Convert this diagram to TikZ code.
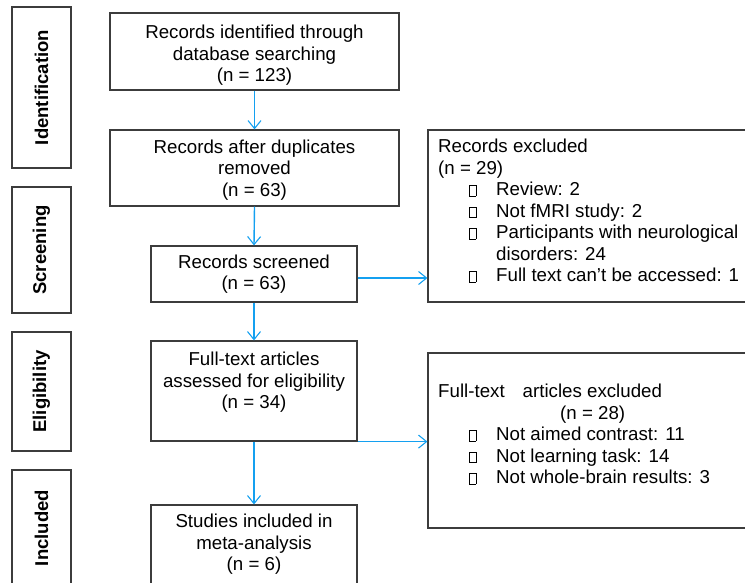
\documentclass[tikz,border=0pt]{standalone}
\usepackage{fontspec}
\setmainfont{Liberation Sans}
\usetikzlibrary{arrows.meta}
\definecolor{arrowblue}{RGB}{20,160,240}
\definecolor{boxgray}{RGB}{60,60,60}
\newcommand{\tofubox}{{\setlength{\fboxsep}{0pt}\setlength{\fboxrule}{0.6pt}\fbox{\rule{0pt}{10pt}\hspace{6pt}}}}
\newcommand{\exclitem}[1]{\makebox[58pt][l]{\hspace{31pt}\tofubox}#1}
\begin{document}
\begin{tikzpicture}[x=1pt, y=-1pt,
		every node/.style={font=\fontsize{18.7}{21.5}\selectfont, inner sep=2pt},
		stage/.style={draw=boxgray, line width=1.2pt, rotate=90, minimum height=59pt, font=\fontsize{18.5}{21.5}\selectfont\bfseries},
		flowbox/.style={draw=boxgray, line width=1.2pt, align=center},
		arr/.style={->, draw=arrowblue, line width=1.4pt},
		>={Straight Barb[length=8pt,width=13pt,line width=1.1pt]}]
		\useasboundingbox (0,0) rectangle (745,582);
		\clip (0,0) rectangle (745,582);
		
		% Этапы слева
		\foreach \name/\txt/\y/\len in {ident/Identification/87.5/161, screen/Screening/250/126, elig/Eligibility/391.5/119, incl/Included/528/116}
			\node[stage, minimum width=\len pt] (\name) at (41.5,\y) {\txt};
		
		% Основная колонка
		\node[flowbox, minimum width=289pt, minimum height=77pt] (recid) at (254.5,51.5) {\rule{0pt}{21pt}Records identified through\\database searching\\(n = 123)};
		\node[flowbox, minimum width=289pt, minimum height=76pt] (recdup) at (254.5,168) {\rule{0pt}{17pt}Records after duplicates\\removed\\(n = 63)};
		\node[flowbox, minimum width=206pt, minimum height=56pt] (recscr) at (254,274) {Records screened\\(n = 63)};
		\node[flowbox, minimum width=206pt, minimum height=100pt] (fulltext) at (254,391) {Full-text articles\\assessed for eligibility\\(n = 34)\\\mbox{}};
		\node[flowbox, minimum width=206pt, minimum height=79pt] (studies) at (254,544.5) {Studies included in\\meta-analysis\\(n = 6)};
		
		% Исключённые
		\node[flowbox, minimum width=332pt, minimum height=172pt] (excl1) at (594,216) {};
		\node[flowbox, minimum width=332pt, minimum height=175pt] (excl2) at (594,440.5) {};
		\node[anchor=north west, align=left] (excl1txt) at (436,137) {Records excluded\\(n = 29)\\
			\exclitem{Review: 2}\\
			\exclitem{Not fMRI study: 2}\\
			\exclitem{Participants with neurological}\\
			\hspace*{58pt}disorders: 24\\
			\exclitem{Full text can’t be accessed: 1}};
		\node[anchor=north west, align=left] (excl2txt) at (436,382) {Full-text\hspace{18pt}articles excluded\\
			\hspace*{122pt}(n = 28)\\
			\exclitem{Not aimed contrast: 11}\\
			\exclitem{Not learning task: 14}\\
			\exclitem{Not whole-brain results: 3}};
		
		% Стрелки
		\foreach \a/\b in {recid/recdup, recdup/recscr, recscr/fulltext, fulltext/studies}
			\draw[arr] (\a.south) -- (\b.north);
		\coordinate (scrout) at ([yshift=-4pt]recscr.east);
		\draw[arr] (scrout) -- (scrout -| excl1.west);
		\draw[arr] (fulltext.south east) -- (fulltext.south east -| excl2.west);
	\end{tikzpicture}
\end{document}
